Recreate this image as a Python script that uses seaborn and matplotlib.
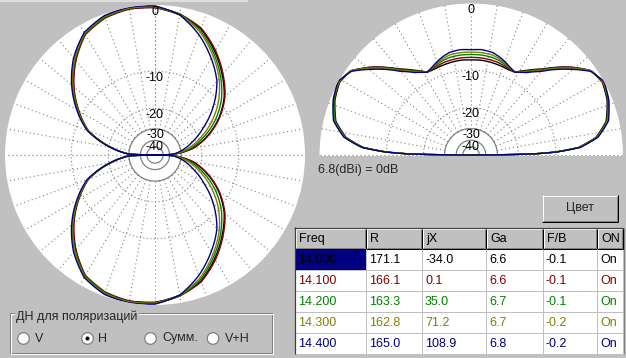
import numpy as np
import matplotlib
matplotlib.use("Agg")
import matplotlib.pyplot as plt
import seaborn as sns
from matplotlib.patches import Rectangle, Circle

# ---------------- data ----------------
FREQS = [14.000, 14.100, 14.200, 14.300, 14.400]
R_VALS = [171.1, 166.1, 163.3, 162.8, 165.0]
JX_VALS = [-34.0, 0.1, 35.0, 71.2, 108.9]
GA_VALS = [6.6, 6.6, 6.7, 6.7, 6.8]
FB_VALS = [-0.1, -0.1, -0.1, -0.2, -0.2]
ON_VALS = ["On", "On", "On", "On", "On"]
HEADERS = ["Freq", "R", "jX", "Ga", "F/B", "ON"]
SERIES_COLORS = ["#000000", "#800000", "#008000", "#808000", "#000080"]
RING_LABELS = ["0", "-10", "-20", "-30", "-40"]
RADIO_LABELS = ["V", "H", "Сумм.", "V+H"]

# Azimuth (H polarisation), dB vs. angle (deg, clockwise from top), upper lobe;
# lower lobe is its mirror image.
AZ_ANGLES = [-90, -88, -80, -70, -60, -50, -40, -30, -20, -10, 0,
             10, 20, 30, 40, 50, 60, 70, 80, 88, 90]
AZ_14000 = [-99, -30, -20.5, -12.8, -9.1, -5.9, -3.3, -1.2, -0.4, -0.2, -0.3,
            -0.9, -1.9, -3.9, -6.2, -8.7, -12.2, -17.0, -23.5, -36, -99]
AZ_14100 = [-99, -30, -20.6, -12.9, -9.2, -6.0, -3.4, -1.3, -0.5, -0.2, -0.3,
            -0.8, -1.8, -3.7, -6.0, -8.5, -12.0, -16.7, -23.2, -36, -99]
AZ_14200 = [-99, -30, -20.5, -12.8, -9.0, -5.8, -3.2, -1.2, -0.4, -0.1, -0.2,
            -0.8, -2.1, -4.2, -6.6, -9.4, -13.2, -18.4, -25.0, -36.5, -99]
AZ_14300 = [-99, -30, -20.4, -12.7, -8.9, -5.7, -3.1, -1.1, -0.3, -0.1, -0.2,
            -0.9, -2.3, -4.5, -7.0, -10.2, -14.4, -19.8, -26.5, -36.5, -99]
AZ_14400 = [-99, -30, -20.3, -12.5, -8.7, -5.5, -2.9, -1.0, -0.2, 0.0, -0.1,
            -0.9, -2.7, -5.0, -7.6, -11.6, -16.8, -22.5, -29.0, -37, -99]

# Elevation, dB vs. elevation angle (deg), symmetric about zenith
EL_ANGLES = [0, 1, 2, 4, 8, 14, 22, 29, 35, 41, 50, 56, 62, 66, 70, 74, 78, 84, 90]
EL_14000 = [-99, -15.5, -10.2, -5.9, -3.2, -1.5, -0.6, -0.2, -0.6, -2.2, -5.2,
            -6.8, -8.3, -8.4, -8.3, -8.2, -8.1, -8.0, -8.05]
EL_14100 = [-99, -15.4, -10.1, -5.8, -3.1, -1.4, -0.5, -0.2, -0.6, -2.2, -5.3,
            -6.9, -8.3, -8.2, -8.0, -7.8, -7.7, -7.6, -7.6]
EL_14200 = [-99, -15.3, -10.0, -5.8, -3.1, -1.4, -0.5, -0.1, -0.6, -2.3, -5.4,
            -7.0, -8.3, -8.1, -7.7, -7.4, -7.2, -7.1, -7.1]
EL_14300 = [-99, -15.2, -9.9, -5.7, -3.0, -1.3, -0.4, -0.1, -0.6, -2.4, -5.5,
            -7.1, -8.3, -8.0, -7.5, -7.1, -6.8, -6.7, -6.7]
EL_14400 = [-99, -15.0, -9.8, -5.6, -2.9, -1.2, -0.4, 0.0, -0.7, -2.6, -5.7,
            -7.3, -8.3, -7.9, -7.3, -6.8, -6.4, -6.2, -6.3]

AZ_SERIES = [AZ_14000, AZ_14100, AZ_14200, AZ_14300, AZ_14400]
EL_SERIES = [EL_14000, EL_14100, EL_14200, EL_14300, EL_14400]
RING_DB = [0, -10, -20, -30, -40]

# ---------------- style ----------------
sns.set_theme(style="white")
plt.rcParams["font.family"] = ["Liberation Sans", "DejaVu Sans"]

W, H = 626, 358
BG = "#c0c0c0"
GRID = "#808080"
fig = plt.figure(figsize=(W / 100, H / 100), dpi=100, facecolor=BG)


def arrl(db):
    """ARRL log-periodic polar scale: 0.89 per 2 dB."""
    return 0.89 ** (-np.asarray(db, dtype=float) / 2.0)


def polar_axes(cx, cy, rad):
    ax = fig.add_axes([(cx - rad) / W, 1 - (cy + rad) / H, 2 * rad / W, 2 * rad / H],
                      projection="polar")
    ax.set_ylim(0, 1)
    ax.set_xticks([])
    ax.set_yticks([])
    ax.grid(False)
    for sp in ax.spines.values():
        sp.set_visible(False)
    return ax


def draw_grid(ax, th0, th1, top):
    th = np.linspace(np.radians(th0), np.radians(th1), 361)
    for db in (-10, -20):
        ax.plot(th, np.full_like(th, arrl(db)), color=GRID, lw=0.8,
                ls=(0, (1, 2.2)), zorder=1)
    for db in (-30, -40, -50):
        ax.plot(th, np.full_like(th, arrl(db)), color=GRID, lw=0.9, zorder=1)
    for a in range(th0, th1 + 1, 10):
        ax.plot([np.radians(a)] * 2, [arrl(-30), 1.0], color=GRID, lw=0.8,
                ls=(0, (1, 2.6)), zorder=1)
    for lab, db in zip(RING_LABELS, RING_DB):
        ax.text(top, arrl(db) - 0.004, lab, ha="center", va="top", fontsize=9,
                color="black", zorder=5)


def pattern_line(ax, theta, r, col):
    sns.lineplot(x=theta, y=r, ax=ax, color=col, lw=1.0, sort=False,
                 estimator=None, zorder=3)
    # let the polar transform draw curved segments between samples
    ax.lines[-1].get_path()._interpolation_steps = 24


# ---- left: azimuth plot ----
axL = polar_axes(155, 155, 150)
axL.set_facecolor("white")
axL.set_theta_zero_location("N")
axL.set_theta_direction(-1)
draw_grid(axL, 0, 360, 0.0)
az = np.array(AZ_ANGLES, dtype=float)
az_full = np.radians(np.concatenate([az, 180 - az[::-1]]))
for vals, col in zip(AZ_SERIES, SERIES_COLORS):
    v = np.array(vals, dtype=float)
    pattern_line(axL, az_full, arrl(np.concatenate([v, v[::-1]])), col)
axL.set_xlabel("")
axL.set_ylabel("")
axL.set_ylim(0, 1)

# ---- right: elevation plot ----
axR = polar_axes(471, 155, 152)
axR.patch.set_alpha(0)
halfth = np.linspace(0, np.pi, 361)
axR.fill_between(halfth, 0, 1, color="white", zorder=0, lw=0)
draw_grid(axR, 0, 180, np.pi / 2)
el = np.array(EL_ANGLES, dtype=float)
el_full = np.radians(np.concatenate([el, 180 - el[::-1]]))
for vals, col in zip(EL_SERIES, SERIES_COLORS):
    v = np.array(vals, dtype=float)
    pattern_line(axR, el_full, arrl(np.concatenate([v, v[::-1]])), col)
axR.set_xlabel("")
axR.set_ylabel("")
axR.set_ylim(0, 1)

# ---------------- overlay (widgets) ----------------
ov = fig.add_axes([0, 0, 1, 1])
ov.set_xlim(0, W)
ov.set_ylim(H, 0)
ov.axis("off")
ov.patch.set_alpha(0)

ov.add_patch(Rectangle((0, 0), 248, 1.6, fc="#dedede", ec="none"))

ov.text(318, 170, "6.8(dBi) = 0dB", fontsize=9, va="center", ha="left")


def hline(x0, x1, y, c, lw=1.0):
    ov.plot([x0, x1], [y, y], color=c, lw=lw * 0.72, solid_capstyle="butt")


def vline(x, y0, y1, c, lw=1.0):
    ov.plot([x, x], [y0, y1], color=c, lw=lw * 0.72, solid_capstyle="butt")


def raised(x0, y0, x1, y1):
    ov.add_patch(Rectangle((x0, y0), x1 - x0, y1 - y0, fc=BG, ec="none"))
    hline(x0, x1, y0 + 0.5, "white")
    vline(x0 + 0.5, y0, y1, "white")
    hline(x0, x1, y1 - 0.5, "black")
    vline(x1 - 0.5, y0, y1, "black")
    hline(x0 + 1, x1 - 1, y1 - 1.5, GRID)
    vline(x1 - 1.5, y0 + 1, y1 - 1, GRID)


# button
raised(542, 195, 618, 222)
ov.text(580, 208.5, "Цвет", fontsize=9, ha="center", va="center")

# table
cols = [295, 366, 422, 486, 543, 597, 623]
rows = [228, 249, 270, 291, 312, 333, 354]
ov.add_patch(Rectangle((cols[0], rows[1]), cols[-1] - cols[0], rows[-1] - rows[1],
                       fc="white", ec="none"))
for i, h in enumerate(HEADERS):
    raised(cols[i], rows[0], cols[i + 1], rows[1])
    ov.text(cols[i] + 4, (rows[0] + rows[1]) / 2 + 0.5, h, fontsize=9,
            ha="left", va="center", color="black")
ov.add_patch(Rectangle((cols[0], rows[1]), cols[1] - cols[0], rows[2] - rows[1],
                       fc="#000080", ec="none"))
for y in rows[2:-1]:
    hline(cols[0], cols[-1], y - 0.5, BG)
for x in cols[1:-1]:
    vline(x - 0.5, rows[1], rows[-1], BG)
for k in range(len(FREQS)):
    vals = [f"{FREQS[k]:.3f}", f"{R_VALS[k]:.1f}", f"{JX_VALS[k]:.1f}",
            f"{GA_VALS[k]:.1f}", f"{FB_VALS[k]:.1f}", ON_VALS[k]]
    yc = (rows[k + 1] + rows[k + 2]) / 2 + 0.5
    for i, s in enumerate(vals):
        ov.text(cols[i] + 3, yc, s, fontsize=9, ha="left", va="center",
                color=SERIES_COLORS[k])
vline(cols[0] - 0.5, rows[0] - 1, rows[-1], "#404040", 1.2)
hline(cols[0] - 1, cols[-1], rows[0] - 0.5, "#404040", 1.2)
vline(cols[-1] + 0.5, rows[0], rows[-1], GRID, 1.0)

# polarisation group box
gx0, gy0, gx1, gy1 = 10, 313, 273, 354
for off, c in ((0, GRID), (1, "white")):
    ov.add_patch(Rectangle((gx0 + off, gy0 + off), gx1 - gx0 - 1, gy1 - gy0 - 1,
                           fc="none", ec=c, lw=0.72))
ov.text(16, gy0 + 3.5, "ДН для поляризаций", fontsize=9, ha="left", va="center",
        bbox=dict(fc=BG, ec="none", pad=1.0))
radio_x = [23.5, 87.5, 150.5, 213]
label_x = [35, 98, 162, 225]
for lab, cx, lx in zip(RADIO_LABELS, radio_x, label_x):
    ov.add_patch(Circle((cx, 338.5), 5.8, fc="white", ec=GRID, lw=0.9))
    if lab == "H":
        ov.add_patch(Circle((cx, 338.5), 2.0, fc="black", ec="none"))
    ov.text(lx, 338.5, lab, fontsize=9, ha="left", va="center")

fig.savefig("out.png", dpi=100, facecolor=BG)
